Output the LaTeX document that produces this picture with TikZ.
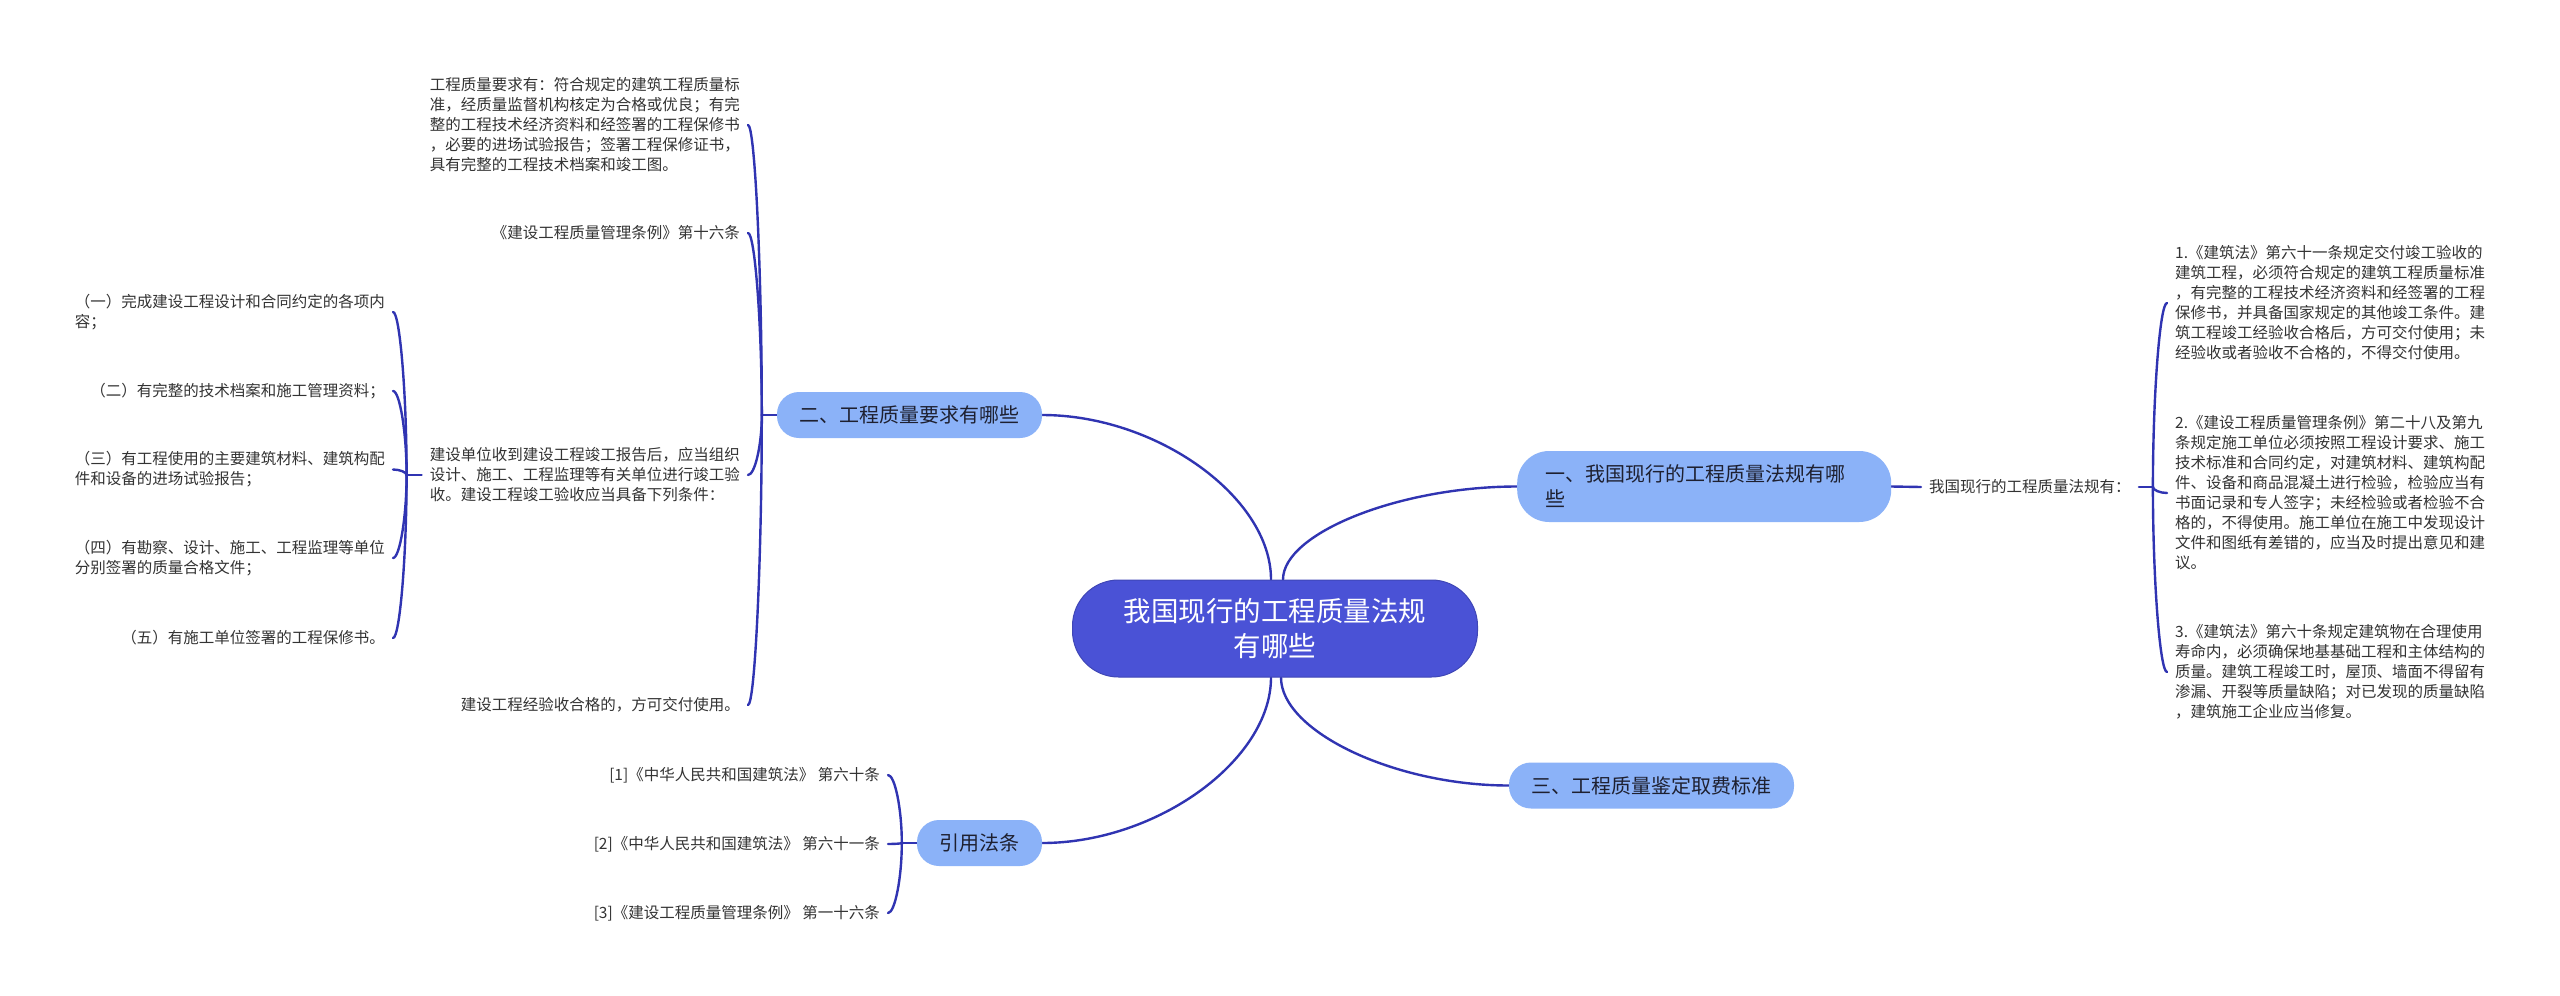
\documentclass[tikz,border=0pt]{standalone}
\usepackage{fontspec}
\setmainfont{Noto Sans CJK SC}
\usetikzlibrary{backgrounds,calc}
\definecolor{linec}{RGB}{48,52,178}
\definecolor{mainc}{RGB}{74,82,214}
\definecolor{branchc}{RGB}{139,178,248}
\definecolor{textc}{RGB}{51,51,51}
\definecolor{btextc}{RGB}{30,32,48}
\begin{document}
\begin{tikzpicture}[x=1pt,y=1pt,
  conn/.style={draw=linec, line width=2.4pt, line cap=round},
  mainnode/.style={fill=mainc, draw=mainc!85!black, line width=1pt, rounded corners=46pt,
    minimum width=405pt, minimum height=97pt, text=white,
    font=\fontsize{27.5}{35}\selectfont, align=center, inner sep=0pt},
  branch/.style={fill=branchc, rounded corners=22pt, minimum height=46pt,
    inner xsep=22.5pt, inner ysep=0pt, text=btextc, font=\fontsize{20}{25}\selectfont},
  leaf/.style={text=textc, font=\fontsize{15.5}{20}\selectfont, align=left,
    inner xsep=8pt, inner ysep=3pt},
]
\useasboundingbox (0,0) rectangle (2560,-996);

% central and branch nodes
\node[mainnode] (main) at (1275,-628.5) {我国现行的工程质量法规\\有哪些};
\node[branch, rounded corners=32pt, minimum height=71pt, text width=318pt,
  inner xsep=28pt, align=left, anchor=west] (b1) at (1517,-486.5)
  {一、我国现行的工程质量法规有哪\\些};
\node[branch] (b2) at (909.5,-415) {二、工程质量要求有哪些};
\node[branch] (b3) at (1651.5,-785.5) {三、工程质量鉴定取费标准};
\node[branch] (b4) at (979.5,-843) {引用法条};

% branch 二 leaves
\node[leaf, anchor=east] (L1) at (748,-125) {工程质量要求有：符合规定的建筑工程质量标\\准，经质量监督机构核定为合格或优良；有完\\整的工程技术经济资料和经签署的工程保修书\\，必要的进场试验报告；签署工程保修证书，\\具有完整的工程技术档案和竣工图。};
\node[leaf, anchor=east] (L2) at (748,-233) {《建设工程质量管理条例》第十六条};
\node[leaf, anchor=east] (L3) at (748,-475) {建设单位收到建设工程竣工报告后，应当组织\\设计、施工、工程监理等有关单位进行竣工验\\收。建设工程竣工验收应当具备下列条件：};
\node[leaf, anchor=east] (L4) at (748,-705) {建设工程经验收合格的，方可交付使用。};

% L3 leaves
\node[leaf, anchor=east] (S1) at (393,-312) {（一）完成建设工程设计和合同约定的各项内\\容；};
\node[leaf, anchor=east] (S2) at (393,-391) {（二）有完整的技术档案和施工管理资料；};
\node[leaf, anchor=east] (S3) at (393,-469.5) {（三）有工程使用的主要建筑材料、建筑构配\\件和设备的进场试验报告；};
\node[leaf, anchor=east] (S4) at (393,-558) {（四）有勘察、设计、施工、工程监理等单位\\分别签署的质量合格文件；};
\node[leaf, anchor=east] (S5) at (393,-638) {（五）有施工单位签署的工程保修书。};

% branch 一 leaves
\node[leaf, anchor=west] (R0) at (1921,-487) {我国现行的工程质量法规有：};
\node[leaf, anchor=west] (R1) at (2167,-303) {1.《建筑法》第六十一条规定交付竣工验收的\\建筑工程，必须符合规定的建筑工程质量标准\\，有完整的工程技术经济资料和经签署的工程\\保修书，并具备国家规定的其他竣工条件。建\\筑工程竣工经验收合格后，方可交付使用；未\\经验收或者验收不合格的，不得交付使用。};
\node[leaf, anchor=west] (R2) at (2167,-493) {2.《建设工程质量管理条例》第二十八及第九\\条规定施工单位必须按照工程设计要求、施工\\技术标准和合同约定，对建筑材料、建筑构配\\件、设备和商品混凝土进行检验，检验应当有\\书面记录和专人签字；未经检验或者检验不合\\格的，不得使用。施工单位在施工中发现设计\\文件和图纸有差错的，应当及时提出意见和建\\议。};
\node[leaf, anchor=west] (R3) at (2167,-672) {3.《建筑法》第六十条规定建筑物在合理使用\\寿命内，必须确保地基基础工程和主体结构的\\质量。建筑工程竣工时，屋顶、墙面不得留有\\渗漏、开裂等质量缺陷；对已发现的质量缺陷\\，建筑施工企业应当修复。};

% 引用法条 leaves
\node[leaf, anchor=east] (C1) at (888,-775) {[1]《中华人民共和国建筑法》 第六十条};
\node[leaf, anchor=east] (C2) at (888,-844) {[2]《中华人民共和国建筑法》 第六十一条};
\node[leaf, anchor=east] (C3) at (888,-913) {[3]《建设工程质量管理条例》 第一十六条};

\begin{pgfonlayer}{background}
\fill[white] (0,0) rectangle (2560,-996);
% main connectors (vertical start, horizontal end)
\coordinate (mtl) at ([xshift=-4pt]main.north);
\coordinate (mtr) at ([xshift=8pt]main.north);
\coordinate (mbl) at ([xshift=-4pt]main.south);
\coordinate (mbr) at ([xshift=6pt]main.south);
\foreach \s/\e in {mtl/b2.east, mtr/b1.west, mbl/b4.east, mbr/b3.west}{
  \coordinate (mid) at ($(\s)!0.5!(\e)$);
  \draw[conn] (\s) .. controls (\s |- mid) and (mid |- \e) .. (\e);
}
% branch 一
\draw[conn] (b1.east) -- (R0.west);
\draw[conn] (R0.east) -- ++(14,0) coordinate (sR);
\foreach \n in {R1,R2,R3}{
  \coordinate (mid) at ($(sR)!0.5!(\n.west)$);
  \draw[conn] (sR) .. controls (sR |- mid) and (mid |- \n.west) .. (\n.west);
}
% branch 二
\draw[conn] (b2.west) -- ++(-15,0) coordinate (s2);
\foreach \n in {L1,L2,L3,L4}{
  \coordinate (mid) at ($(s2)!0.5!(\n.east)$);
  \draw[conn] (s2) .. controls (s2 |- mid) and (mid |- \n.east) .. (\n.east);
}
\draw[conn] (L3.west) -- ++(-15,0) coordinate (s3);
\foreach \n in {S1,S2,S3,S4,S5}{
  \coordinate (mid) at ($(s3)!0.5!(\n.east)$);
  \draw[conn] (s3) .. controls (s3 |- mid) and (mid |- \n.east) .. (\n.east);
}
% 引用法条
\draw[conn] (b4.west) -- ++(-15,0) coordinate (s4);
\foreach \n in {C1,C2,C3}{
  \coordinate (mid) at ($(s4)!0.5!(\n.east)$);
  \draw[conn] (s4) .. controls (s4 |- mid) and (mid |- \n.east) .. (\n.east);
}
\end{pgfonlayer}
\end{tikzpicture}
\end{document}
